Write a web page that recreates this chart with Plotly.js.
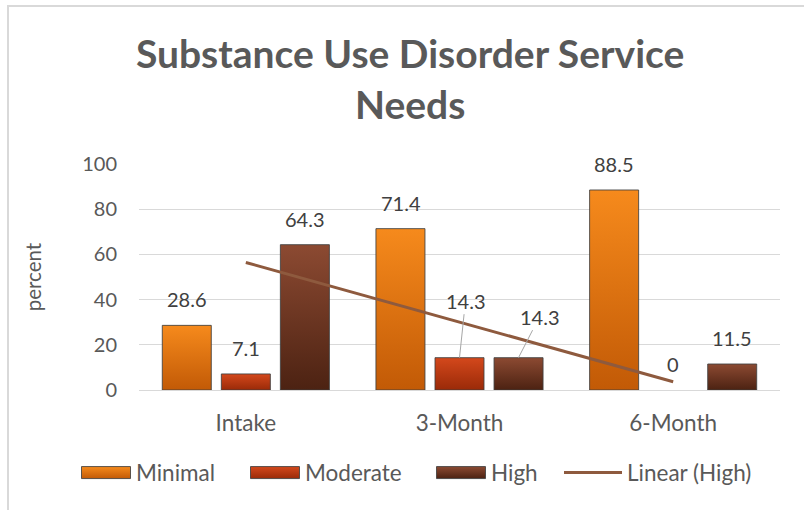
<!DOCTYPE html>
<html>
<head>
<meta charset="utf-8">
<script src="https://cdn.plot.ly/plotly-3.0.1.min.js"></script>
<style>
  html, body { margin: 0; padding: 0; background: #ffffff; }
  #wrap { position: relative; width: 804px; height: 510px; overflow: hidden; }
  #chart { width: 804px; height: 510px; }
  /* chart-area frame: only the top and left edges fall inside the view */
  #frame {
    position: absolute; left: 7px; top: 5px; width: 900px; height: 600px;
    border-top: 2px solid #d9d9d9; border-left: 2px solid #d9d9d9;
    pointer-events: none;
  }
</style>
</head>
<body>
<div id="wrap">
  <div id="chart"></div>
  <div id="frame"></div>
</div>
<script>
// Service-need levels at each follow-up point (percent of clients)
const categories = ['Intake', '3-Month', '6-Month'];
const minimal = [28.6, 71.4, 88.5];
const moderate = [7.1, 14.3, 0];
const high = [64.3, 14.3, 11.5];
const seriesNames = ['Minimal', 'Moderate', 'High'];
const trendName = 'Linear (High)';
const yTicks = [0, 20, 40, 60, 80, 100];

const TEXT = '#595959';
const FONT = 'Lato, "Open Sans", sans-serif';
const WORD_SIZE = 22.5;

// Least-squares trend of the High series over the category positions 1..n
function linearTrend(values) {
  const n = values.length;
  const xs = values.map((_, i) => i + 1);
  const mx = xs.reduce((a, b) => a + b, 0) / n;
  const my = values.reduce((a, b) => a + b, 0) / n;
  let num = 0, den = 0;
  for (let i = 0; i < n; i++) { num += (xs[i] - mx) * (values[i] - my); den += (xs[i] - mx) ** 2; }
  const slope = num / den;
  const icpt = my - slope * mx;
  return xs.map(x => icpt + slope * x);
}
const trend = linearTrend(high);

const series = [minimal, moderate, high];
const baseColors = ['#e87810', '#c0400f', '#6e3620'];
const legendIds = ['legend', 'legend2', 'legend3', 'legend4'];

const traces = series.map((vals, i) => ({
  type: 'bar',
  name: seriesNames[i],
  legend: legendIds[i],
  x: categories,
  y: vals,
  marker: {
    color: baseColors[i],
    // a zero-height bar gets no outline
    line: { color: 'rgba(64,64,64,0.85)', width: vals.map(v => (v === 0 ? 0 : 1)) }
  },
  hoverinfo: 'skip'
}));

traces.push({
  type: 'scatter',
  mode: 'lines',
  name: trendName,
  legend: legendIds[3],
  x: categories,
  y: trend,
  line: { color: '#8e5a3e', width: 3 },
  hoverinfo: 'skip'
});

// Value labels above each bar; the two 3-Month 14.3 labels sit off to the side with leader lines
const SLOT = 59;
const annotations = [];
series.forEach((vals, s) => {
  vals.forEach((v, c) => {
    const base = {
      x: categories[c], y: v, text: String(v),
      xshift: (s - 1) * SLOT,
      font: { family: FONT, size: 20, color: '#404040' }
    };
    const leader = (c === 1 && s === 1) ? { ax: 6, ay: -57 }
                 : (c === 1 && s === 2) ? { ax: 21, ay: -41 } : null;
    if (leader) {
      annotations.push(Object.assign(base, {
        showarrow: true, arrowhead: 0, arrowwidth: 1, arrowcolor: '#a6a6a6',
        ax: leader.ax, ay: leader.ay, standoff: 0
      }));
    } else {
      annotations.push(Object.assign(base, {
        showarrow: false, yanchor: 'middle', yshift: 26
      }));
    }
  });
});

// One legend box per entry so each can keep its own spacing along the bottom row
const PLOT_L = 139, PLOT_W = 641;
const legendBox = (px, itemwidth) => ({
  orientation: 'h', xanchor: 'left', x: (px - PLOT_L) / PLOT_W,
  y: -0.367, yanchor: 'middle',
  font: { family: FONT, size: WORD_SIZE, color: TEXT },
  itemwidth: itemwidth, bgcolor: 'rgba(0,0,0,0)', borderwidth: 0
});

const layout = {
  width: 804, height: 510,
  margin: { l: PLOT_L, r: 24, t: 164, b: 120 },
  paper_bgcolor: '#ffffff', plot_bgcolor: '#ffffff',
  font: { family: FONT, color: TEXT, size: 20 },
  title: {
    text: 'Substance Use Disorder Service<br>Needs',
    font: { family: FONT, size: 39, color: TEXT, weight: 'bold' },
    x: 0.423, xanchor: 'center', xref: 'paper',
    y: 1 - 68 / 510, yanchor: 'top', yref: 'container'
  },
  barmode: 'group',
  bargap: 0.171,
  bargroupgap: 0.17,
  showlegend: true,
  legend: legendBox(76, 50),
  legend2: legendBox(245, 50),
  legend3: legendBox(431, 50),
  legend4: legendBox(559, 58),
  xaxis: {
    type: 'category', showgrid: false, zeroline: false,
    showline: true, linecolor: '#d9d9d9', linewidth: 1,
    ticks: '', tickfont: { family: FONT, size: WORD_SIZE, color: TEXT },
    ticklabelstandoff: 13, fixedrange: true
  },
  yaxis: {
    range: [0, 100], tickvals: yTicks, ticktext: yTicks.map(String),
    showgrid: true, gridcolor: '#d9d9d9', gridwidth: 1,
    zeroline: false, showline: false, ticks: '',
    tickfont: { family: FONT, size: 20, color: TEXT },
    ticklabelstandoff: 21,
    title: { text: 'percent', font: { family: FONT, size: 20.5, color: TEXT }, standoff: 35 },
    fixedrange: true
  },
  annotations: annotations
};

// Vertical gradients for the bar fills (light top, deep bottom)
const gradients = [
  ['#f68a1c', '#c25a06'],
  ['#d4481c', '#9a2a08'],
  ['#8c4a32', '#4c2212']
];

Plotly.newPlot('chart', traces, layout, { staticPlot: true, displayModeBar: false }).then(gd => {
  const svg = gd.querySelector('svg.main-svg');
  const ns = 'http://www.w3.org/2000/svg';
  let defs = svg.querySelector('defs');
  if (!defs) { defs = document.createElementNS(ns, 'defs'); svg.insertBefore(defs, svg.firstChild); }
  gradients.forEach((g, i) => {
    const lg = document.createElementNS(ns, 'linearGradient');
    lg.setAttribute('id', 'barfill' + i);
    lg.setAttribute('x1', '0'); lg.setAttribute('y1', '0');
    lg.setAttribute('x2', '0'); lg.setAttribute('y2', '1');
    [[0, g[0]], [1, g[1]]].forEach(([o, c]) => {
      const st = document.createElementNS(ns, 'stop');
      st.setAttribute('offset', o); st.setAttribute('stop-color', c);
      lg.appendChild(st);
    });
    defs.appendChild(lg);
  });
  gd.querySelectorAll('.barlayer .trace').forEach((tr, i) => {
    tr.querySelectorAll('.point path').forEach(p => { p.style.fill = 'url(#barfill' + i + ')'; });
  });
  // widen the bar swatches in the legends
  seriesNames.forEach((nm, i) => {
    gd.querySelectorAll('.' + legendIds[i] + ' .traces path.legendbar, .' + legendIds[i] + ' .traces path.legendundefined')
      .forEach(bp => {
        bp.setAttribute('d', 'M24.5,6H-24.5V-6H24.5Z');
        bp.style.fill = 'url(#barfill' + i + ')';
      });
  });
});
</script>
</body>
</html>
